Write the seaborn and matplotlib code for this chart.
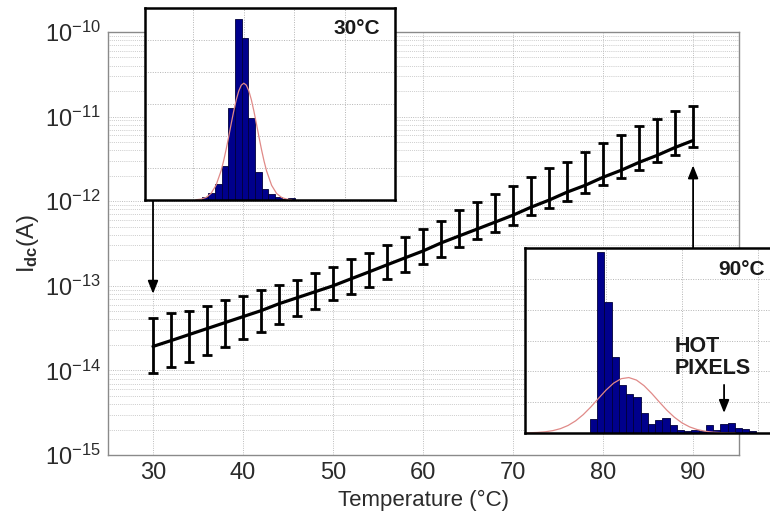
import numpy as np
import pandas as pd
import matplotlib
matplotlib.use("Agg")
import matplotlib.pyplot as plt
import seaborn as sns
from matplotlib.ticker import LogLocator, NullFormatter, LogFormatterSciNotation

# ---------------- data ----------------
temps = [30, 32, 34, 36, 38, 40, 42, 44, 46, 48, 50, 52, 54, 56, 58, 60,
         62, 64, 66, 68, 70, 72, 74, 76, 78, 80, 82, 84, 86, 88, 90]
mean_A = [1.92e-14, 2.25e-14, 2.65e-14, 3.12e-14, 3.67e-14, 4.32e-14, 5.08e-14,
          6.14e-14, 7.22e-14, 8.50e-14, 1.00e-13, 1.21e-13, 1.46e-13, 1.77e-13,
          2.14e-13, 2.58e-13, 3.21e-13, 3.88e-13, 4.68e-13, 5.66e-13, 6.84e-13,
          8.50e-13, 1.03e-12, 1.28e-12, 1.54e-12, 1.92e-12, 2.32e-12, 2.88e-12,
          3.48e-12, 4.32e-12, 5.22e-12]
upper_A = [4.20e-14, 4.81e-14, 5.08e-14, 5.82e-14, 6.84e-14, 7.63e-14, 8.97e-14,
           1.03e-13, 1.18e-13, 1.42e-13, 1.67e-13, 2.08e-13, 2.44e-13, 3.04e-13,
           3.77e-13, 4.68e-13, 5.82e-13, 7.84e-13, 9.73e-13, 1.21e-12, 1.50e-12,
           1.92e-12, 2.44e-12, 2.88e-12, 3.77e-12, 4.81e-12, 6.14e-12, 7.84e-12,
           9.47e-12, 1.18e-11, 1.35e-11]
lower_A = [9.22e-15, 1.09e-14, 1.24e-14, 1.54e-14, 1.87e-14, 2.32e-14, 2.88e-14,
           3.57e-14, 4.44e-14, 5.36e-14, 6.84e-14, 8.05e-14, 9.73e-14, 1.21e-13,
           1.46e-13, 1.82e-13, 2.19e-13, 2.88e-13, 3.57e-13, 4.32e-13, 5.22e-13,
           6.84e-13, 8.27e-13, 1.00e-12, 1.24e-12, 1.54e-12, 1.87e-12, 2.32e-12,
           2.88e-12, 3.48e-12, 4.32e-12]
x_ticks = [30, 40, 50, 60, 70, 80, 90]
y_ticks = [1e-15, 1e-14, 1e-13, 1e-12, 1e-11, 1e-10]
x_label = "Temperature (\u00b0C)"
y_label = r"I$_{\mathbf{dc}}$(A)"

# inset 30 C histogram (arbitrary units)
h30_centers = [1.233, 1.365, 1.497, 1.629, 1.761, 1.893, 2.025, 2.157, 2.289,
               2.421, 2.553, 2.685, 2.817, 2.949]
h30_counts = [0.08, 0.23, 0.50, 1.06, 2.86, 5.65, 5.05, 2.55, 0.89, 0.33, 0.20,
              0.08, 0.02, 0.05]
fit30_x = [1.05, 1.15, 1.25, 1.35, 1.45, 1.55, 1.60, 1.65, 1.70, 1.75, 1.80, 1.85,
           1.90, 1.95, 2.00, 2.05, 2.10, 2.15, 2.20, 2.25, 2.30, 2.35, 2.40, 2.45,
           2.55, 2.65, 2.75, 2.85, 2.95]
fit30_y = [0.0075, 0.026, 0.077, 0.201, 0.458, 0.910, 1.218, 1.576, 1.969, 2.378,
           2.774, 3.128, 3.408, 3.588, 3.65, 3.588, 3.408, 3.128, 2.774, 2.378,
           1.969, 1.576, 1.218, 0.910, 0.458, 0.201, 0.077, 0.026, 0.0075]

# inset 90 C histogram
h90_centers = [0.837, 0.932, 1.027, 1.123, 1.218, 1.313, 1.408, 1.503, 1.599,
               1.694, 1.789, 1.884, 1.979, 2.075, 2.170, 2.265, 2.360, 2.455,
               2.551, 2.646, 2.741, 2.836, 2.931]
h90_counts = [0.47, 5.87, 4.24, 2.46, 1.55, 1.26, 1.17, 0.65, 0.30, 0.41, 0.49,
              0.25, 0.09, 0.07, 0.09, 0.05, 0.25, 0.09, 0.30, 0.34, 0.17, 0.14, 0.05]
fit90_x = [-0.1, 0.0, 0.1, 0.2, 0.3, 0.4, 0.5, 0.6, 0.7, 0.8, 0.9, 1.0, 1.1, 1.2,
           1.3, 1.4, 1.5, 1.6, 1.7, 1.8, 1.9, 2.0, 2.1, 2.2, 2.3, 2.4, 2.5, 2.6, 2.7]
fit90_y = [0.0034, 0.0082, 0.0185, 0.0389, 0.0766, 0.141, 0.2436, 0.3937, 0.5956,
           0.844, 1.120, 1.391, 1.618, 1.762, 1.798, 1.717, 1.535, 1.286, 1.008,
           0.740, 0.509, 0.327, 0.197, 0.111, 0.059, 0.029, 0.0135, 0.0059, 0.0024]

# ---------------- style ----------------
sns.set_style("white")
plt.rcParams["font.family"] = ["Liberation Sans", "DejaVu Sans"]
plt.rcParams["mathtext.fontset"] = "custom"
plt.rcParams["mathtext.rm"] = "Liberation Sans"
plt.rcParams["mathtext.it"] = "Liberation Sans:italic"
plt.rcParams["mathtext.bf"] = "Liberation Sans:bold"

TXT = "#2b2b2b"
GRID = "#b4b4b4"
BAR = "#00008c"
FIT = "#e08a88"

W, H = 770, 521
fig = plt.figure(figsize=(W / 100, H / 100), dpi=100)
ax = fig.add_axes([108 / W, 1 - 455 / H, (739 - 108) / W, (455 - 32) / H])

df = pd.DataFrame({"T": temps, "I": mean_A})
ax.set_yscale("log")
sns.lineplot(data=df, x="T", y="I", color="black", lw=2.3, ax=ax, zorder=3)
m = np.array(mean_A)
yerr = [m - np.array(lower_A), np.array(upper_A) - m]
ax.errorbar(temps, mean_A, yerr=yerr, fmt="none", ecolor="black",
            elinewidth=2.0, capsize=3.6, capthick=2.0, zorder=3)

ax.set_xlim(25, 95.1)
ax.set_ylim(1e-15, 1e-10)
ax.set_xticks(x_ticks)
ax.set_yticks(y_ticks)
ax.yaxis.set_major_formatter(LogFormatterSciNotation())
ax.yaxis.set_minor_locator(LogLocator(base=10, subs=np.arange(2, 10), numticks=100))
ax.yaxis.set_minor_formatter(NullFormatter())
ax.grid(True, which="major", axis="both", color=GRID, ls=(0, (1, 1.5)), lw=0.65)
ax.grid(True, which="minor", axis="y", color=GRID, ls=(0, (1, 1.5)), lw=0.55)
ax.set_axisbelow(True)
ax.tick_params(axis="both", which="major", labelsize=17, colors="#888888",
               labelcolor=TXT, direction="in", length=4, pad=5)
ax.tick_params(axis="y", which="minor", direction="in", length=2, colors="#888888")
for s in ax.spines.values():
    s.set_color("#8a8a8a")
    s.set_linewidth(1.0)
ax.set_xlabel(x_label, fontsize=16, color=TXT, labelpad=4)
ax.set_ylabel(y_label, fontsize=17, color=TXT, labelpad=3)

arrow_kw = dict(arrowstyle="-|>,head_length=0.55,head_width=0.22",
                color="black", lw=1.3, mutation_scale=14, shrinkA=0, shrinkB=0)
ax.annotate("", xy=(30, 8.05e-14), xytext=(30, 1e-12), arrowprops=arrow_kw, zorder=4)
ax.annotate("", xy=(90, 2.65e-12), xytext=(90, 2.72e-13), arrowprops=arrow_kw, zorder=4)


def style_inset(a, xlim, xt):
    a.set_facecolor("white")
    a.set_xlim(*xlim)
    a.set_ylim(0, 6)
    a.set_xticks(xt)
    a.set_yticks([1, 2, 3, 4, 5])
    a.tick_params(length=0, labelbottom=False, labelleft=False)
    a.grid(True, color=GRID, ls=(0, (1, 1.5)), lw=0.7)
    a.set_axisbelow(True)
    a.set_xlabel("")
    a.set_ylabel("")
    for s in a.spines.values():
        s.set_color("black")
        s.set_linewidth(1.8)


def draw_hist(a, centers, counts, width):
    d = pd.DataFrame({"x": centers, "w": counts})
    edges = [centers[0] - width / 2 + width * k for k in range(len(centers) + 1)]
    sns.histplot(data=d, x="x", weights="w", bins=edges, ax=a, color=BAR,
                 edgecolor="#00003a", linewidth=0.6, alpha=1.0)


# inset 1 (30 C)
ax1 = fig.add_axes([145 / W, 1 - 200 / H, 250 / W, 192 / H])
draw_hist(ax1, h30_centers, h30_counts, 0.132)
sns.lineplot(x=fit30_x, y=fit30_y, color=FIT, lw=0.9, ax=ax1)
style_inset(ax1, (0.046, 4.99), [1, 2, 3, 4])
ax1.text(4.69, 5.36, "30\u00b0C", ha="right", va="center", fontsize=15,
         fontweight="bold", color="#1a1a1a")

# inset 2 (90 C)
ax2 = fig.add_axes([525 / W, 1 - 433 / H, 250 / W, 185 / H])
draw_hist(ax2, h90_centers, h90_counts, 0.0952)
sns.lineplot(x=fit90_x, y=fit90_y, color=FIT, lw=0.9, ax=ax2)
style_inset(ax2, (-0.066, 3.223), [1, 2, 3])
ax2.text(3.09, 5.30, "90\u00b0C", ha="right", va="center", fontsize=15,
         fontweight="bold", color="#1a1a1a")
ax2.text(1.908, 2.45, "HOT\nPIXELS", ha="left", va="center", fontsize=15.5,
         fontweight="bold", color="#1a1a1a", linespacing=1.05)
ax2.annotate("", xy=(2.553, 0.65), xytext=(2.553, 1.56), arrowprops=arrow_kw)

fig.savefig("out.png", dpi=100)
